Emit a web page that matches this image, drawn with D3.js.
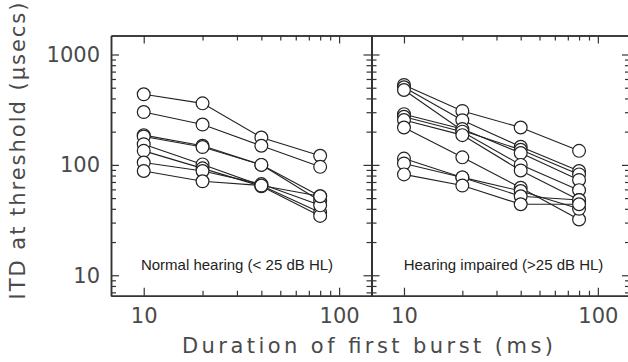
<!DOCTYPE html>
<html>
<head>
<meta charset="utf-8">
<script src="https://cdn.jsdelivr.net/npm/d3@7"></script>
<style>
  body { margin: 0; background: #fff; }
  svg { display: block; }
  .domain { stroke: #333; stroke-width: 1.5; }
  .tick line { stroke: #333; stroke-width: 1.2; }
  .lbl { font-family: "DejaVu Sans", sans-serif; font-size: 21px; fill: #4a4a4a; }
</style>
</head>
<body>
<svg id="chart" width="628" height="362"></svg>
<script>
// durations of the first burst (ms)
var durations = [10, 20, 40, 80];
// ITD thresholds (usecs), one row per listener
var normalHearing = [
  [436, 361, 177, 121],
  [301, 232, 149, 96],
  [186, 149, 100, 52],
  [181, 145, 100, 47],
  [154, 101, 65, 37],
  [134, 93, 64, 34.5],
  [105, 88, 67, 43],
  [88, 71, 65, 52]
];
var hearingImpaired = [
  [530, 308, 218, 134],
  [505, 254, 146, 88],
  [477, 205, 137, 82],
  [288, 211, 128, 73],
  [273, 200, 100, 59],
  [255, 186, 89, 48],
  [218, 117, 62, 32],
  [114, 77, 58, 40],
  [103, 77, 52, 48],
  [82, 65, 44, 44]
];
var xTicks = [10, 100];
var xMinor = [20, 30, 40, 50, 60, 70, 80, 90];
var yTicks = [10, 100, 1000];
var yMinor = [7, 8, 9, 20, 30, 40, 50, 60, 70, 80, 90, 200, 300, 400, 500, 600, 700, 800, 900];
var panelLabels = ["Normal hearing (< 25 dB HL)", "Hearing impaired (>25 dB HL)"];

var svg = d3.select("#chart");
var plotTop = 35.5, plotBottom = 295.7;
var y = d3.scaleLog().domain([6.53, 1486]).range([plotBottom, plotTop]);

var panels = [
  { data: normalHearing, x0: 111, x1: 371.5, label: panelLabels[0], labelX: 237, yLabels: true },
  { data: hearingImpaired, x0: 371.5, x1: 630, label: panelLabels[1], labelX: 503.5, yLabels: false }
];

panels.forEach(function(p) {
  var x = d3.scaleLog().domain([6.8, 146.5]).range([p.x0, p.x1]);
  var g = svg.append("g");

  //frame + major ticks
  g.append("g").attr("transform", "translate(0," + plotBottom + ")")
    .call(d3.axisBottom(x).tickValues(xTicks).tickSize(-8).tickSizeOuter(0).tickPadding(12.5).tickFormat(d3.format("d")));
  g.append("g").attr("transform", "translate(0," + plotTop + ")")
    .call(d3.axisTop(x).tickValues(xTicks).tickSize(-8).tickSizeOuter(0).tickFormat(""));
  g.append("g").attr("transform", "translate(" + p.x0 + ",0)")
    .call(d3.axisLeft(y).tickValues(yTicks).tickSize(-8).tickSizeOuter(0).tickPadding(11)
      .tickFormat(p.yLabels ? d3.format("d") : ""));
  g.append("g").attr("transform", "translate(" + p.x1 + ",0)")
    .call(d3.axisRight(y).tickValues(yTicks).tickSize(-8).tickSizeOuter(0).tickFormat(""));

  //minor ticks
  g.append("g").attr("transform", "translate(0," + plotBottom + ")")
    .call(d3.axisBottom(x).tickValues(xMinor).tickSize(-5).tickSizeOuter(0).tickFormat(""));
  g.append("g").attr("transform", "translate(0," + plotTop + ")")
    .call(d3.axisTop(x).tickValues(xMinor).tickSize(-5).tickSizeOuter(0).tickFormat(""));
  g.append("g").attr("transform", "translate(" + p.x0 + ",0)")
    .call(d3.axisLeft(y).tickValues(yMinor).tickSize(-5).tickSizeOuter(0).tickFormat(""));
  g.append("g").attr("transform", "translate(" + p.x1 + ",0)")
    .call(d3.axisRight(y).tickValues(yMinor).tickSize(-5).tickSizeOuter(0).tickFormat(""));

  g.selectAll(".tick text").attr("class", "lbl").attr("font-size", null).attr("font-family", null).attr("fill", null);

  var line = d3.line().x(function(d, i) { return x(durations[i]); }).y(function(d) { return y(d); });

  g.selectAll("path.series").data(p.data).enter().append("path")
    .attr("class", "series")
    .attr("d", line)
    .attr("fill", "none")
    .attr("stroke", "#222")
    .attr("stroke-width", 1.1);

  p.data.forEach(function(row) {
    g.selectAll(null).data(row).enter().append("circle")
      .attr("cx", function(d, i) { return x(durations[i]); })
      .attr("cy", function(d) { return y(d); })
      .attr("r", 6.4)
      .attr("fill", "#fff")
      .attr("stroke", "#222")
      .attr("stroke-width", 1.2);
  });

  g.append("text")
    .attr("x", p.labelX)
    .attr("y", 270)
    .attr("text-anchor", "middle")
    .attr("font-family", "Liberation Sans, Arial, sans-serif")
    .attr("font-size", 15)
    .attr("fill", "#222")
    .text(p.label);
});

//axis titles
svg.append("text")
  .attr("class", "lbl")
  .attr("x", 367.5)
  .attr("y", 353)
  .attr("text-anchor", "middle")
  .attr("textLength", 371)
  .text("Duration of first burst (ms)");

svg.append("text")
  .attr("class", "lbl")
  .attr("transform", "translate(25,151) rotate(-90)")
  .attr("text-anchor", "middle")
  .attr("textLength", 297)
  .text("ITD at threshold (\u03bcsecs)");
</script>
</body>
</html>
